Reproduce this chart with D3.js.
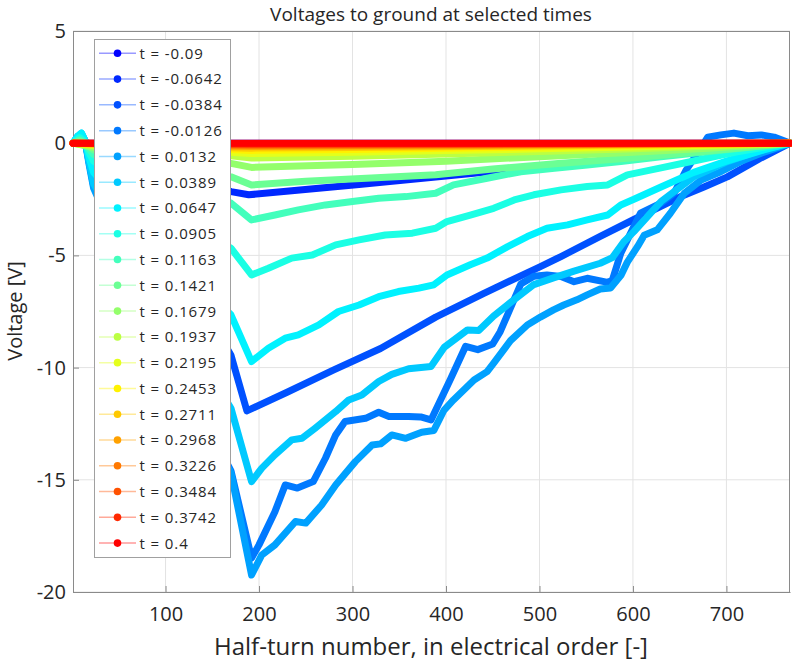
<!DOCTYPE html>
<html>
<head>
<meta charset="utf-8">
<script src="https://cdn.jsdelivr.net/npm/d3@7"></script>
<style>
  html, body { margin: 0; padding: 0; background: #fff; }
  svg { display: block; font-family: "Open Sans", "Liberation Sans", sans-serif; }
</style>
</head>
<body>
<svg id="chart" width="792" height="663"></svg>
<script>
// ---------------- data ----------------
const timeLabels = ["t = -0.09","t = -0.0642","t = -0.0384","t = -0.0126","t = 0.0132","t = 0.0389","t = 0.0647","t = 0.0905","t = 0.1163","t = 0.1421","t = 0.1679","t = 0.1937","t = 0.2195","t = 0.2453","t = 0.2711","t = 0.2968","t = 0.3226","t = 0.3484","t = 0.3742","t = 0.4"];
const seriesColors = ["#0000ff","#0028ff","#0051ff","#0079ff","#00a1ff","#00c9ff","#00f2ff","#1bffe4","#43ffbc","#6bff94","#94ff6b","#bcff43","#e4ff1b","#fff200","#ffc900","#ffa100","#ff7900","#ff5100","#ff2800","#ff0000"];
const xTicks = [100,200,300,400,500,600,700];
const yTicks = [5,0,-5,-10,-15,-20];

// each series: [half-turn number, voltage]
const s00 = [[1,0],[768,0]];
const s01 = [[1,0],[10,0.1],[22,-0.3],[100,-1.2],[170,-2.16],[189,-2.3],[235,-2.12],[307,-1.84],[389,-1.51],[480,-1.14],[587,-0.72],[680,-0.35],[768,0]];
const s02 = [[1,0],[8,0.2],[14,0],[22,-1.2],[100,-5.5],[150,-8.0],[170,-9.45],[187,-11.93],[230,-11.1],[280,-10.1],[330,-9.15],[389,-7.75],[440,-6.7],[501,-5.5],[523,-5.05],[565,-4.15],[601,-3.4],[650,-2.4],[676,-1.95],[701,-1.5],[735,-0.7],[768,0]];
const s03 = [[1,0],[6,0.3],[10,0.4],[14,0.1],[18,-0.8],[23,-1.9],[100,-9],[170,-14.6],[192,-18.49],[200,-17.9],[217,-16.42],[228,-15.23],[241,-15.37],[258,-15.08],[271,-14.04],[282,-13.0],[292,-12.4],[314,-12.26],[328,-11.99],[339,-12.18],[360,-12.18],[373,-12.2],[384,-12.33],[405,-10.5],[421,-9.05],[434,-9.2],[450,-8.95],[458,-8.4],[480,-6.28],[494,-5.93],[508,-5.87],[523,-5.94],[537,-6.17],[551,-6.02],[573,-6.2],[578,-6.1],[587,-4.9],[594,-4.31],[608,-3.12],[619,-2.9],[630,-2.67],[644,-2.23],[657,-1.19],[669,-0.45],[680,0.27],[694,0.37],[708,0.45],[723,0.33],[737,0.37],[751,0.27],[765,0.05],[768,0]];
const s04 = [[1,0],[6,0.3],[10,0.4],[14,0.1],[18,-0.9],[23,-2.0],[100,-9.2],[170,-14.7],[192,-19.24],[203,-18.35],[217,-17.9],[239,-16.86],[250,-16.93],[267,-16.12],[282,-15.23],[303,-14.19],[321,-13.45],[330,-13.4],[342,-13.0],[357,-13.15],[374,-12.88],[387,-12.8],[398,-11.89],[408,-11.44],[430,-10.55],[444,-10.18],[451,-9.8],[469,-8.8],[487,-8.1],[501,-7.75],[515,-7.43],[526,-7.21],[540,-6.98],[551,-6.76],[565,-6.5],[576,-6.45],[587,-5.9],[594,-5.3],[605,-4.6],[612,-4.1],[626,-3.86],[640,-3.12],[655,-2.23],[673,-1.64],[694,-1.27],[715,-0.82],[737,-0.45],[758,-0.15],[768,0]];
const s05 = [[1,0],[6,0.3],[10,0.45],[14,0.1],[18,-0.8],[23,-1.8],[100,-7],[170,-11.81],[192,-15.08],[203,-14.48],[217,-13.89],[235,-13.22],[246,-13.15],[260,-12.7],[282,-11.96],[296,-11.44],[310,-11.22],[328,-10.62],[342,-10.3],[360,-10.05],[384,-9.95],[398,-9.1],[423,-8.32],[435,-8.35],[451,-7.7],[469,-7.1],[494,-6.3],[515,-6.0],[537,-5.7],[565,-5.35],[578,-5.1],[590,-4.4],[601,-3.94],[630,-2.6],[665,-1.5],[701,-0.82],[737,-0.3],[768,0]];
const s06 = [[1,0],[6,0.3],[10,0.45],[14,0.1],[18,-0.6],[23,-1.3],[100,-4.8],[170,-7.65],[192,-9.73],[210,-9.14],[228,-8.69],[242,-8.54],[264,-8.1],[285,-7.5],[307,-7.21],[328,-6.84],[349,-6.61],[371,-6.46],[387,-6.31],[401,-5.87],[426,-5.42],[444,-5.12],[466,-4.61],[487,-4.16],[508,-3.79],[530,-3.64],[551,-3.42],[573,-3.2],[587,-2.75],[601,-2.5],[630,-1.95],[665,-1.3],[700,-0.8],[740,-0.3],[768,0]];
const s07 = [[1,0],[8,0.25],[14,0.05],[18,-0.4],[23,-0.8],[100,-2.9],[170,-4.68],[192,-5.87],[210,-5.57],[235,-5.12],[257,-4.98],[282,-4.53],[307,-4.31],[335,-4.09],[364,-4.01],[389,-3.79],[401,-3.49],[426,-3.2],[451,-2.9],[473,-2.53],[494,-2.3],[523,-2.08],[551,-1.93],[573,-1.86],[594,-1.41],[630,-1.1],[670,-0.75],[710,-0.4],[740,-0.18],[768,0]];
const s08 = [[1,0],[8,0.15],[14,0],[18,-0.25],[23,-0.5],[100,-1.7],[170,-2.67],[192,-3.42],[217,-3.2],[242,-2.97],[271,-2.75],[300,-2.6],[328,-2.45],[357,-2.38],[389,-2.23],[408,-1.86],[444,-1.56],[480,-1.27],[516,-1.12],[551,-0.97],[587,-0.82],[630,-0.6],[680,-0.38],[720,-0.2],[768,0]];
const s09 = [[1,0],[8,0.1],[14,0],[23,-0.3],[100,-1.0],[170,-1.5],[192,-1.86],[250,-1.7],[320,-1.55],[389,-1.41],[450,-1.15],[520,-0.9],[601,-0.65],[680,-0.35],[768,0]];
const s10 = [[1,0],[23,-0.2],[100,-0.6],[170,-0.9],[192,-1.08],[300,-0.95],[400,-0.8],[500,-0.6],[600,-0.4],[680,-0.22],[768,0]];
const s11 = [[1,0],[23,-0.12],[100,-0.4],[170,-0.56],[192,-0.66],[300,-0.58],[400,-0.48],[500,-0.37],[600,-0.25],[690,-0.12],[768,0]];
const s12 = [[1,0],[23,-0.08],[100,-0.28],[170,-0.4],[192,-0.46],[300,-0.4],[400,-0.33],[500,-0.25],[600,-0.17],[690,-0.08],[768,0]];
const s13 = [[1,0],[23,-0.05],[100,-0.2],[170,-0.28],[192,-0.32],[300,-0.28],[400,-0.23],[500,-0.17],[600,-0.11],[690,-0.05],[768,0]];
const s14 = [[1,0],[100,-0.14],[192,-0.22],[300,-0.19],[400,-0.16],[500,-0.12],[600,-0.08],[768,0]];
const s15 = [[1,0],[100,-0.1],[192,-0.15],[300,-0.13],[400,-0.11],[500,-0.08],[600,-0.05],[768,0]];
const s16 = [[1,0],[100,-0.06],[192,-0.1],[300,-0.09],[400,-0.07],[500,-0.05],[600,-0.03],[768,0]];
const s17 = [[1,0],[192,-0.06],[400,-0.04],[600,-0.02],[768,0]];
const s18 = [[1,0],[192,-0.03],[400,-0.02],[768,0]];
const s19 = [[1,0],[768,0]];
const seriesData = [s00,s01,s02,s03,s04,s05,s06,s07,s08,s09,s10,s11,s12,s13,s14,s15,s16,s17,s18,s19];

// ---------------- layout ----------------
const svg = d3.select("#chart");
const pLeft = 73, pRight = 790, pTop = 31, pBottom = 592;
const x = d3.scaleLinear().domain([1, 768]).range([pLeft, pRight]);
const y = d3.scaleLinear().domain([-20, 5]).range([pBottom, pTop]);
const textColor = "#262626";

// grid
const grid = svg.append("g");
grid.selectAll("line.gx").data(xTicks).join("line")
  .attr("x1", d => x(d)).attr("x2", d => x(d)).attr("y1", pTop).attr("y2", pBottom)
  .attr("stroke", "#e3e3e3").attr("stroke-width", 1);
grid.selectAll("line.gy").data(yTicks).join("line")
  .attr("x1", pLeft).attr("x2", pRight).attr("y1", d => y(d)).attr("y2", d => y(d))
  .attr("stroke", "#e3e3e3").attr("stroke-width", 1);

// axes
const fmt = d => String(d);
const xAxis = d3.axisBottom(x).tickValues(xTicks).tickFormat(fmt).tickSizeInner(-6).tickSizeOuter(0).tickPadding(15);
const yAxis = d3.axisLeft(y).tickValues(yTicks).tickFormat(fmt).tickSizeInner(-6).tickSizeOuter(0).tickPadding(7);
const gx = svg.append("g").attr("transform", `translate(0,${pBottom})`).call(xAxis);
const gy = svg.append("g").attr("transform", `translate(${pLeft},0)`).call(yAxis);
[gx, gy].forEach(g => {
  g.select(".domain").attr("stroke", "#8a8a8a");
  g.selectAll(".tick line").attr("stroke", "#8a8a8a");
  g.selectAll(".tick text").attr("fill", textColor).style("font-size", "20px").style("font-family", "'Open Sans', sans-serif");
});
svg.append("line").attr("x1", pLeft).attr("x2", pRight).attr("y1", pTop + 0.5).attr("y2", pTop + 0.5).attr("stroke", "#8a8a8a");
svg.append("line").attr("x1", pRight - 0.5).attr("x2", pRight - 0.5).attr("y1", pTop).attr("y2", pBottom).attr("stroke", "#8a8a8a");

// lines
const line = d3.line().x(d => x(d[0])).y(d => y(d[1]));
svg.append("g").selectAll("path").data(seriesData).join("path")
  .attr("d", line)
  .attr("fill", "none")
  .attr("stroke", (d, i) => seriesColors[i])
  .attr("stroke-width", 7)
  .attr("stroke-linejoin", "round")
  .attr("stroke-linecap", "round");

// title and labels
svg.append("text").attr("x", 431).attr("y", 21).attr("text-anchor", "middle")
  .attr("fill", textColor).style("font-size", "19px").text("Voltages to ground at selected times");
svg.append("text").attr("x", 431).attr("y", 655).attr("text-anchor", "middle")
  .attr("fill", textColor).style("font-size", "24px").text("Half-turn number, in electrical order [-]");
svg.append("text").attr("transform", "translate(22,311) rotate(-90)").attr("text-anchor", "middle")
  .attr("fill", textColor).style("font-size", "20px").text("Voltage [V]");

// legend
const lg = svg.append("g");
lg.append("rect").attr("x", 94.5).attr("y", 39.5).attr("width", 136).attr("height", 518)
  .attr("fill", "#fff").attr("stroke", "#a0a0a0");
const rowY = i => 53.3 + i * 25.78;
const entries = lg.selectAll("g.e").data(timeLabels).join("g");
entries.append("line").attr("x1", 99).attr("x2", 136).attr("y1", (d, i) => rowY(i)).attr("y2", (d, i) => rowY(i))
  .attr("stroke", (d, i) => seriesColors[i]).attr("stroke-opacity", 0.4).attr("stroke-width", 1.5);
entries.append("circle").attr("cx", 117.5).attr("cy", (d, i) => rowY(i)).attr("r", 3.8)
  .attr("fill", (d, i) => seriesColors[i]);
entries.append("text").attr("x", 139.5).attr("y", (d, i) => rowY(i)).attr("dy", "0.36em")
  .attr("fill", textColor).style("font-size", "15px").style("letter-spacing", "0.9px").text(d => d);
</script>
</body>
</html>
